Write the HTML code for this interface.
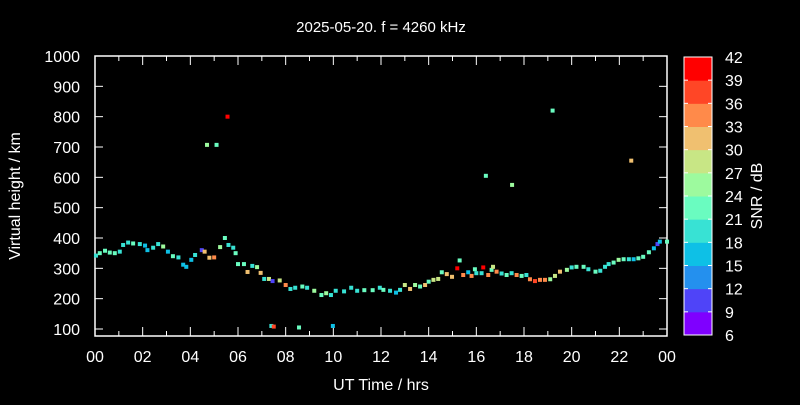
<!DOCTYPE html>
<html><head><meta charset="utf-8"><style>
body{margin:0;background:#000;width:800px;height:400px;overflow:hidden}
svg text{font-family:"Liberation Sans",sans-serif;fill:#fff}
</style></head><body>
<svg id="c" width="800" height="400">
<rect x="0" y="0" width="800" height="400" fill="#000"/>
<text x="381" y="32" font-size="15" text-anchor="middle">2025-05-20. f = 4260 kHz</text>
<text x="381" y="390" font-size="16" text-anchor="middle">UT Time / hrs</text>
<text transform="translate(20,196) rotate(-90)" font-size="16" text-anchor="middle">Virtual height / km</text>
<text transform="translate(762,196) rotate(-90)" font-size="16" text-anchor="middle">SNR / dB</text>
<g id="axes"></g><g id="pts"></g><g id="cb"></g>
</svg>
<script>
const xTicks=["00","02","04","06","08","10","12","14","16","18","20","22","00"];
const yTicks=[100,200,300,400,500,600,700,800,900,1000];
const cbTicks=[6,9,12,15,18,21,24,27,30,33,36,39,42];
const cbColors=["#7f00ff","#4f44f8","#2490ee","#0ec0e6","#38e2d4","#6afcc0","#9dfa9e","#c8e685","#f0c070","#ff8a4a","#ff4626","#ff0000"];
const times=[0.04,0.2,0.42,0.62,0.83,1.04,1.18,1.39,1.6,1.88,2.1,2.2,2.44,2.65,2.86,3.06,3.27,3.5,3.7,3.83,4.04,4.2,4.48,4.6,4.8,5.0,5.25,5.45,5.6,5.8,5.9,6.0,6.25,6.4,6.6,6.8,6.95,7.1,7.3,7.45,7.75,8.0,8.2,8.4,8.7,8.9,9.2,9.5,9.7,9.9,10.1,10.45,10.75,11.0,11.3,11.65,11.95,12.1,12.38,12.63,12.8,13.0,13.22,13.43,13.64,13.85,14.0,14.2,14.4,14.55,14.76,14.98,15.2,15.3,15.45,15.66,15.8,15.94,16.0,16.22,16.29,16.5,16.64,16.7,16.85,17.06,17.27,17.48,17.69,17.9,18.1,18.25,18.46,18.67,18.88,19.1,19.3,19.51,19.8,20.0,20.2,20.5,20.7,21.0,21.2,21.4,21.55,21.76,21.97,22.18,22.4,22.6,22.8,23.0,23.24,23.45,23.6,23.7,24.0,
4.7,5.1,5.56,16.4,17.5,19.2,22.5,7.4,7.5,8.56,9.98];
const heights=[342,350,358,352,350,355,377,385,382,380,375,360,368,380,372,355,340,336,312,305,328,344,360,355,335,336,370,400,377,368,350,314,314,288,308,304,285,265,265,258,260,245,232,236,240,236,226,212,218,212,226,224,236,226,228,228,236,229,226,220,229,245,232,245,240,245,256,262,265,287,281,272,300,326,278,287,275,297,284,284,303,278,295,305,289,283,278,284,278,275,278,264,258,262,262,264,275,289,295,303,305,305,297,289,292,305,314,319,328,330,330,330,333,338,353,366,380,388,388,
707,707,800,605,575,820,655,110,108,105,110];
const snr=[20,21,22,23,21,20,19,20,22,20,17,15,18,19,24,17,22,20,16,16,17,19,10,31,32,34,25,22,18,18,22,22,21,30,20,24,32,19,28,10,27,35,20,19,21,20,24,23,25,18,20,20,18,20,21,21,20,21,19,16,20,28,30,24,22,32,22,28,29,22,30,32,40,23,34,17,33,23,20,18,39,33,23,28,34,20,22,20,33,22,20,35,36,34,35,24,27,30,25,20,22,22,20,22,18,20,20,22,24,22,18,17,21,21,22,16,10,15,22,
24,22,40,22,26,23,31,20,38,21,16];
const X0=95,X1=667,Y100=329,Y1000=56;
const xs=h=>X0+(X1-X0)*h/24;
const ys=k=>Y100-(k-100)*(Y100-Y1000)/900;
const NS="http://www.w3.org/2000/svg";
function mk(tag,attrs,parent){const e=document.createElementNS(NS,tag);for(const k in attrs)e.setAttribute(k,attrs[k]);parent.appendChild(e);return e;}
const ax=document.getElementById('axes');
let frame=mk('rect',{x:X0,y:Y1000,width:X1-X0,height:336-Y1000,fill:'none',stroke:'#fff','stroke-width':1.5},ax);


for(let h=0;h<=24;h++){
  const len=h%2?5:9;
  mk('line',{x1:xs(h),x2:xs(h),y1:336,y2:336-len,stroke:'#fff','stroke-width':1},ax);
  mk('line',{x1:xs(h),x2:xs(h),y1:Y1000,y2:Y1000+len,stroke:'#fff','stroke-width':1},ax);
}
xTicks.forEach((t,i)=>{const e=mk('text',{x:xs(i*2),y:362,'font-size':16,'text-anchor':'middle'},ax);e.textContent=t;

});
yTicks.forEach(v=>{mk('line',{x1:X0,x2:X0+8,y1:ys(v),y2:ys(v),stroke:'#fff'},ax);mk('line',{x1:X1,x2:X1-8,y1:ys(v),y2:ys(v),stroke:'#fff'},ax);
const e=mk('text',{x:X0-15,y:ys(v)+6,'font-size':16,'text-anchor':'end'},ax);e.textContent=v;

});
const col=s=>cbColors[Math.max(0,Math.min(11,Math.floor((s-6)/3)))];
const pg=document.getElementById('pts');
times.forEach((t,i)=>{const r=mk('rect',{x:xs(t)-2,y:ys(heights[i])-2,width:4,height:4,fill:col(snr[i])},pg);

});
const cb=document.getElementById('cb');const CB0=684,CB1=712,CT=57,CBt=335;
const bh=(CBt-CT)/12;
cbColors.forEach((c,i)=>{const r=mk('rect',{x:CB0,y:CBt-(i+1)*bh,width:CB1-CB0,height:bh+0.5,fill:c},cb);

});
mk('rect',{x:CB0,y:CT,width:CB1-CB0,height:CBt-CT,fill:'none',stroke:'#fff'},cb);
cbTicks.forEach((v,i)=>{const y=CBt-i*bh;mk('line',{x1:CB0,x2:CB0+4,y1:y,y2:y,stroke:'#fff'},cb);mk('line',{x1:CB1,x2:CB1-4,y1:y,y2:y,stroke:'#fff'},cb);
const e=mk('text',{x:725,y:y+6,'font-size':16},cb);e.textContent=v;

});
</script>
</body></html>
